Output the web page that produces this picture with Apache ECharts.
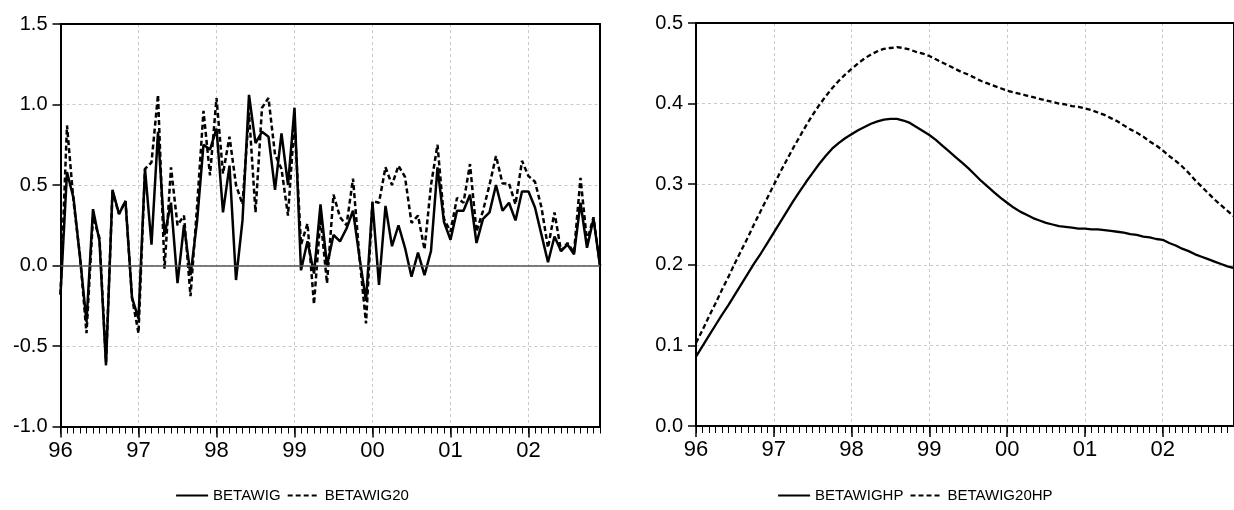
<!DOCTYPE html>
<html><head><meta charset="utf-8">
<script src="https://cdn.jsdelivr.net/npm/echarts@6/dist/echarts.min.js"></script>
<style>html,body{margin:0;padding:0;background:#fff}#c{width:1234px;height:510px}</style>
</head><body><div id="c"></div>
<script>
// ---- data ----
const years = ['96','97','98','99','00','01','02'];
const categories = [];
years.forEach(function (y) { for (let m = 1; m <= 12; m++) categories.push(y + 'M' + String(m).padStart(2, '0')); });

const betawig = [
 -0.18, 0.58, 0.42, 0.05, -0.35, 0.35, 0.15, -0.62, 0.47, 0.32, 0.40, -0.20,
 -0.33, 0.60, 0.13, 0.83, 0.19, 0.39, -0.11, 0.25, -0.06, 0.27, 0.75, 0.72,
  0.85, 0.33, 0.62, -0.09, 0.28, 1.06, 0.76, 0.83, 0.80, 0.47, 0.82, 0.50,
  0.98, -0.03, 0.15, -0.05, 0.38, 0.00, 0.19, 0.15, 0.23, 0.34, 0.05, -0.22,
  0.39, -0.12, 0.37, 0.12, 0.25, 0.11, -0.07, 0.08, -0.06, 0.09, 0.61, 0.27,
  0.16, 0.34, 0.34, 0.44, 0.14, 0.29, 0.33, 0.50, 0.34, 0.39, 0.28, 0.46,
  0.46, 0.36, 0.19, 0.02, 0.18, 0.09, 0.13, 0.07, 0.39, 0.11, 0.29, 0.00
];
const betawig20 = [
 -0.18, 0.87, 0.40, 0.06, -0.42, 0.30, 0.17, -0.60, 0.46, 0.32, 0.40, -0.20,
 -0.42, 0.60, 0.64, 1.06, -0.02, 0.61, 0.25, 0.31, -0.19, 0.36, 0.96, 0.56,
  1.04, 0.57, 0.80, 0.50, 0.38, 0.95, 0.33, 0.98, 1.04, 0.69, 0.60, 0.31,
  0.90, 0.13, 0.26, -0.24, 0.30, -0.11, 0.44, 0.30, 0.25, 0.54, 0.05, -0.36,
  0.40, 0.39, 0.61, 0.50, 0.62, 0.55, 0.265, 0.31, 0.10, 0.50, 0.75, 0.29,
  0.21, 0.42, 0.39, 0.63, 0.21, 0.34, 0.50, 0.68, 0.51, 0.51, 0.38, 0.65,
  0.555, 0.52, 0.36, 0.11, 0.33, 0.09, 0.14, 0.08, 0.545, 0.15, 0.30, 0.00
];
const betawigHP = [
 0.086, 0.099, 0.112, 0.125, 0.138, 0.150, 0.163, 0.176, 0.189, 0.202, 0.214, 0.227,
 0.240, 0.253, 0.266, 0.279, 0.291, 0.303, 0.314, 0.325, 0.335, 0.344, 0.351, 0.357,
 0.362, 0.367, 0.371, 0.375, 0.378, 0.380, 0.381, 0.381, 0.379, 0.376, 0.371, 0.366,
 0.361, 0.355, 0.348, 0.341, 0.334, 0.327, 0.320, 0.312, 0.304, 0.297, 0.290, 0.283,
 0.277, 0.271, 0.266, 0.262, 0.258, 0.255, 0.252, 0.250, 0.248, 0.247, 0.246, 0.245,
 0.245, 0.244, 0.244, 0.243, 0.242, 0.241, 0.240, 0.238, 0.237, 0.235, 0.234, 0.232,
 0.231, 0.227, 0.224, 0.220, 0.217, 0.213, 0.210, 0.207, 0.204, 0.201, 0.198, 0.196
];
const betawig20HP = [
 0.103, 0.119, 0.136, 0.152, 0.169, 0.185, 0.202, 0.218, 0.234, 0.251, 0.267, 0.283,
 0.299, 0.315, 0.330, 0.345, 0.359, 0.373, 0.386, 0.398, 0.409, 0.419, 0.428, 0.436,
 0.443, 0.450, 0.456, 0.461, 0.465, 0.468, 0.469, 0.470, 0.469, 0.467, 0.464, 0.462,
 0.459, 0.455, 0.451, 0.447, 0.443, 0.439, 0.436, 0.432, 0.428, 0.425, 0.422, 0.419,
 0.416, 0.414, 0.412, 0.410, 0.408, 0.406, 0.404, 0.402, 0.400, 0.399, 0.397, 0.396,
 0.394, 0.392, 0.389, 0.386, 0.382, 0.378, 0.373, 0.368, 0.364, 0.359, 0.353, 0.348,
 0.342, 0.335, 0.329, 0.322, 0.314, 0.305, 0.297, 0.289, 0.281, 0.274, 0.267, 0.260
];
const leftY = { min: -1.0, max: 1.5, interval: 0.5 };
const rightY = { min: 0.0, max: 0.5, interval: 0.1 };
const legendLeft = ['BETAWIG', 'BETAWIG20'];
const legendRight = ['BETAWIGHP', 'BETAWIG20HP'];

// ---- chart ----
const FONT = '"Liberation Sans", Arial, sans-serif';
const isYear = function (i) { return i % 12 === 0; };
const gridLine = { show: true, lineStyle: { color: '#c8c8c8', width: 1, type: [3, 3] } };
const frameLine = { show: true, onZero: false, lineStyle: { color: '#000', width: 2 } };

function monthAxis(g) {
  return { type: 'category', gridIndex: g, data: categories, boundaryGap: false, position: 'bottom',
    axisLine: frameLine,
    axisTick: { show: true, interval: 0, length: 7, lineStyle: { color: '#000', width: 1 } },
    axisLabel: { show: false }, splitLine: { show: false } };
}
function yearAxis(g) {
  return { type: 'category', gridIndex: g, data: categories, boundaryGap: false, position: 'bottom',
    axisLine: { show: false, onZero: false },
    axisTick: { show: true, interval: isYear, length: 11, lineStyle: { color: '#000', width: 1.5 } },
    axisLabel: { show: true, interval: isYear, margin: 13, fontSize: 22, color: '#000', fontFamily: FONT,
      formatter: function (v) { return v.slice(0, 2); } },
    splitLine: Object.assign({ interval: isYear }, gridLine) };
}
function topAxis(g) {
  return { type: 'category', gridIndex: g, data: categories, boundaryGap: false, position: 'top',
    axisLine: frameLine, axisTick: { show: false }, axisLabel: { show: false }, splitLine: { show: false } };
}
function valAxis(g, s) {
  return { type: 'value', gridIndex: g, min: s.min, max: s.max, interval: s.interval, position: 'left',
    axisLine: frameLine,
    axisTick: { show: true, length: 8, lineStyle: { color: '#000', width: 1.5 } },
    axisLabel: { margin: 13, fontSize: 20, color: '#000', fontFamily: FONT,
      formatter: function (v) { return v.toFixed(1); } },
    splitLine: gridLine };
}
function rightAxis(g, s) {
  return { type: 'value', gridIndex: g, min: s.min, max: s.max, interval: s.interval, position: 'right',
    axisLine: frameLine, axisTick: { show: false }, axisLabel: { show: false }, splitLine: { show: false } };
}
function lineSeries(name, data, xi, yi, dashed, w) {
  return { name: name, type: 'line', data: data, xAxisIndex: xi, yAxisIndex: yi,
    symbol: 'none', smooth: false, z: 3,
    lineStyle: { color: '#000', width: w, type: dashed ? [5, 3] : 'solid' },
    itemStyle: { color: '#000' } };
}

const chart = echarts.init(document.getElementById('c'), null, { renderer: 'canvas' });
const zeroSeries = lineSeries(legendLeft[0], betawig, 0, 0, false, 2.5);
zeroSeries.markLine = { silent: true, symbol: 'none', label: { show: false },
  lineStyle: { color: '#555', width: 1.5, type: 'solid' }, data: [{ yAxis: 0 }] };

const legendBase = { top: 483, itemWidth: 32, itemHeight: 10, itemGap: 6,
  itemStyle: { opacity: 0 },
  lineStyle: { width: 2.2 },
  textStyle: { fontSize: 15, color: '#000', fontFamily: FONT } };

chart.setOption({
  animation: false,
  backgroundColor: '#fff',
  textStyle: { fontFamily: FONT },
  grid: [
    { left: 60.5, top: 24, width: 539.5, height: 402.5 },
    { left: 696, top: 23, width: 540, height: 403 }
  ],
  xAxis: [monthAxis(0), yearAxis(0), topAxis(0), monthAxis(1), yearAxis(1), topAxis(1)],
  yAxis: [valAxis(0, leftY), rightAxis(0, leftY), valAxis(1, rightY), rightAxis(1, rightY)],
  legend: [
    Object.assign({ data: legendLeft, left: 170 }, legendBase),
    Object.assign({ data: legendRight, left: 772 }, legendBase)
  ],
  series: [
    zeroSeries,
    lineSeries(legendLeft[1], betawig20, 0, 0, true, 2.5),
    lineSeries(legendRight[0], betawigHP, 3, 2, false, 2.3),
    lineSeries(legendRight[1], betawig20HP, 3, 2, true, 2.3)
  ]
});
</script></body></html>
